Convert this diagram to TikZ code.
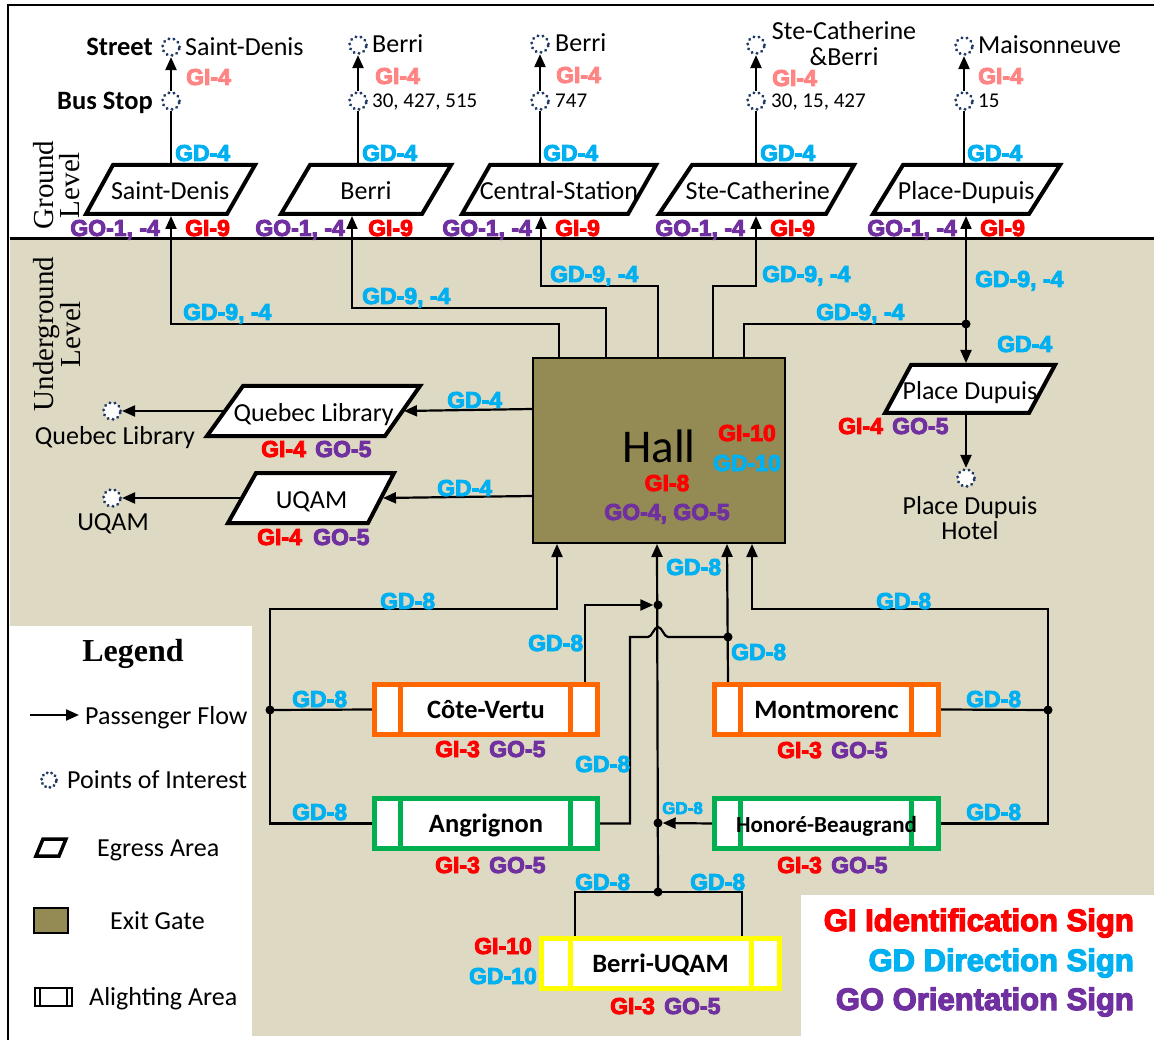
\documentclass[tikz,border=0pt]{standalone}
\usepackage{fontspec}
\setmainfont{Carlito}
\newfontfamily\signfont{Liberation Sans Bold}[FakeBold=4]
\newfontfamily\serfont{Liberation Serif}
\usetikzlibrary{arrows.meta}
\definecolor{gdblue}{HTML}{00B0F0}
\definecolor{gired}{HTML}{FF0000}
\definecolor{gopurple}{HTML}{7030A0}
\definecolor{gipink}{HTML}{FF8585}
\definecolor{bgtan}{HTML}{DDD9C3}
\definecolor{hallolive}{HTML}{948A54}
\definecolor{poiblue}{HTML}{1F3864}
\definecolor{orangeb}{HTML}{FF6600}
\definecolor{greenb}{HTML}{00B050}
\definecolor{yellowb}{HTML}{FFFF00}
\tikzset{
 sign/.style={font=\signfont\fontsize{23}{25}\selectfont, inner sep=0pt, text height=16pt, text depth=0pt},
 gd/.style={sign, text=gdblue},
 gi/.style={sign, text=gired},
 go/.style={sign, text=gopurple},
 gip/.style={sign, text=gipink},
 bigsign/.style={font=\signfont\fontsize{31}{33}\selectfont, inner sep=0pt, text height=22pt, text depth=0pt},
 body/.style={font=\fontsize{26}{28}\selectfont, inner sep=0pt, text height=17pt, text depth=0pt},
 bodyb/.style={font=\bfseries\fontsize{26.5}{28}\selectfont, inner sep=0pt, text height=17pt, text depth=0pt},
 smalltext/.style={font=\fontsize{21}{23}\selectfont, inner sep=0pt, text height=14pt, text depth=0pt},
 serlab/.style={font=\serfont\fontsize{29}{26}\selectfont, inner sep=0pt},
 conn/.style={line width=2.2pt, line join=miter},
 flow/.style={conn, -{Triangle[length=13pt,width=11pt]}},
 egress/.style={draw=black, line width=4pt, fill=white, line join=miter},
 poi/.style={circle, draw=poiblue, line width=3.2pt, line cap=round, dash pattern=on 0.1pt off 5pt, minimum size=17pt, inner sep=0pt, fill=white},
 jdot/.style={circle, fill=black, minimum size=9pt, inner sep=0pt},
}
\newcommand{\egressbox}[8]{%
 \draw[egress] (#2,#6) -- (#3,#6) -- (#5,#7) -- (#4,#7) -- cycle;
 \node[inner sep=0pt, minimum height={#7pt-#6pt}] (#1) at ({(#2+#3+#4+#5)/4},{(#6+#7)/2}) {};
 \node[body] (#1t) at ({(#2+#3+#4+#5)/4},{(#6+#7)/2+2}) {#8};
}
\newcommand{\alightbox}[9]{%
 \fill[white] (#3,#4) rectangle (#5,#6);
 \draw[draw=#2, line width=5pt] (#3,#4) rectangle (#5,#6) (#7,#4) -- (#7,#6) (#8,#4) -- (#8,#6);
 \node[bodyb, minimum width={#5pt-#3pt+5pt}, minimum height={#6pt-#4pt+5pt}] (#1) at ({(#3+#5)/2},{(#4+#6)/2}) {#9};
}
\begin{document}
\begin{tikzpicture}[x=1pt,y=-1pt]
\useasboundingbox (0,0) rectangle (1154,1040);
% backgrounds
\fill[white] (0,0) rectangle (1154,1040);
\fill[bgtan] (10,240) rectangle (1154,1036);
\fill[white] (10,626) rectangle (252,1040);
\fill[white] (801,895) rectangle (1154,1040);
\draw[line width=2pt] (8,1040) -- (8,5) -- (1154,5);
\draw[line width=3pt] (10,239) -- (1154,239);
% level labels
\node[serlab, rotate=90, align=center] (gl) at (57,185) {Ground\\Level};
\node[serlab, rotate=90, align=center] (ul) at (57,334) {Underground\\Level};
% ---------- ground level ----------
\node[poi] (st1) at (171,47) {};
\node[poi] (bs1) at (171,101) {};
\node[poi] (st2) at (358,45) {};
\node[poi] (bs2) at (358,101) {};
\node[poi] (st3) at (540,44) {};
\node[poi] (bs3) at (540,101) {};
\node[poi] (st4) at (756,45) {};
\node[poi] (bs4) at (756,101) {};
\node[poi] (st5) at (964,46) {};
\node[poi] (bs5) at (964,101) {};
\node[bodyb, anchor=east] (lstreet) at (153,47) {Street};
\node[bodyb, anchor=east] (lbus) at (153,101) {Bus Stop};
\node[body, anchor=west] (n1) at (185,47) {Saint-Denis};
\node[body, anchor=west] (n2) at (372,44) {Berri};
\node[body, anchor=west] (n3) at (555,43) {Berri};
\node[body] (n4a) at (844,31) {Ste-Catherine};
\node[body] (n4b) at (844,57) {\&Berri};
\node[body, anchor=west] (n5) at (978,45) {Maisonneuve};
\node[smalltext, anchor=west] (r2) at (372,101) {30, 427, 515};
\node[smalltext, anchor=west] (r3) at (555,101) {747};
\node[smalltext, anchor=west] (r4) at (771,101) {30, 15, 427};
\node[smalltext, anchor=west] (r5) at (978,101) {15};
\node[gip, anchor=west] (gp1) at (186,77) {GI-4};
\node[gip, anchor=west] (gp2) at (375,76) {GI-4};
\node[gip, anchor=west] (gp3) at (556,75) {GI-4};
\node[gip, anchor=west] (gp4) at (772,78) {GI-4};
\node[gip, anchor=west] (gp5) at (978,76) {GI-4};
% egress areas top
\egressbox{pSD}{113}{255}{86}{227}{165}{214}{Saint-Denis}
\egressbox{pBE}{310}{451}{281}{422}{165}{214}{Berri}
\egressbox{pCS}{490}{656}{462}{628}{165}{214}{Central-Station}
\egressbox{pSC}{692}{854}{659}{826}{165}{214}{Ste-Catherine}
\egressbox{pPD}{903}{1060}{873}{1029}{165}{214}{Place-Dupuis}
\draw[conn] (pSD.north -| bs1) -- (bs1);
\draw[conn] (pBE.north -| bs2) -- (bs2);
\draw[conn] (pCS.north -| bs3) -- (bs3);
\draw[conn] (pSC.north -| bs4) -- (bs4);
\draw[conn] (pPD.north -| bs5) -- (bs5);
\draw[flow] (bs1) -- (st1);
\draw[flow] (bs2) -- (st2);
\draw[flow] (bs3) -- (st3);
\draw[flow] (bs4) -- (st4);
\draw[flow] (bs5) -- (st5);
\node[gd, anchor=west] (gt1) at (175,153) {GD-4};
\node[gd, anchor=west] (gt2) at (362,153) {GD-4};
\node[gd, anchor=west] (gt3) at (543,153) {GD-4};
\node[gd, anchor=west] (gt4) at (760,153) {GD-4};
\node[gd, anchor=west] (gt5) at (967,153) {GD-4};
\node[go, anchor=east] (go1) at (160,228) {GO-1, -4};
\node[go, anchor=east] (go2) at (345,228) {GO-1, -4};
\node[go, anchor=east] (go3) at (532,228) {GO-1, -4};
\node[go, anchor=east] (go4) at (745,228) {GO-1, -4};
\node[go, anchor=east] (go5) at (957,228) {GO-1, -4};
\node[gi, anchor=west] (gi1) at (185,228) {GI-9};
\node[gi, anchor=west] (gi2) at (368,228) {GI-9};
\node[gi, anchor=west] (gi3) at (555,228) {GI-9};
\node[gi, anchor=west] (gi4) at (770,228) {GI-9};
\node[gi, anchor=west] (gi5) at (980,228) {GI-9};
% ---------- underground ----------
\node[draw, fill=hallolive, line width=2pt, minimum width=252pt, minimum height=185pt, inner sep=0pt] (hall) at (659,450.5) {};
\node[font=\fontsize{47}{49}\selectfont, inner sep=0pt, text height=30pt, text depth=0pt] (halltxt) at (659,447) {Hall};
\node[gi] (hgi10) at (747,433) {GI-10};
\node[gd] (hgd10) at (747,463) {GD-10};
\node[gi] (hgi8) at (667,483) {GI-8};
\node[go] (hgo) at (667,512) {GO-4, GO-5};
\egressbox{pQL}{243}{420}{207}{385}{386}{436}{Quebec Library}
\egressbox{pUQ}{256}{394}{228}{368}{473}{523}{UQAM}
\egressbox{pPU}{911}{1055}{885}{1029}{365}{413}{Place Dupuis}
\node[poi] (cQL) at (112,411) {};
\node[poi] (cUQ) at (112,498) {};
\node[poi] (cPU) at (966,478) {};
\node[body] (tQL) at (115,436) {Quebec Library};
\node[body] (tUQ) at (113,522) {UQAM};
\node[body] (tPU1) at (970,506) {Place Dupuis};
\node[body] (tPU2) at (970,531) {Hotel};
\node[jdot] (dPD) at (966,324) {};
% hall to ground
\draw[flow] ([xshift=27pt]hall.north west) |- (171,324) -- (171,216);
\draw[flow] ([xshift=74pt]hall.north west) |- (352,308) -- (352,216);
\draw[flow] ([xshift=126pt]hall.north west) |- (541,286) -- (541,216);
\draw[flow] ([xshift=181pt]hall.north west) |- (756,286) -- (756,216);
\draw[conn] ([xshift=212pt]hall.north west) |- (dPD.center);
\draw[flow] (dPD.center) -- (966,216);
\draw[flow] (dPD.center) -- (966,363);
\draw[flow] (pPU.south -| cPU) -- (cPU);
\draw[flow] ([yshift=-52pt]hall.north west) -- (404,411);
\draw[flow] (225,411) -- (cQL);
\draw[flow] ([yshift=-139pt]hall.north west) -- (383,498);
\draw[flow] (242,498) -- (cUQ);
\node[gd, anchor=west] (g94a) at (183,312) {GD-9, -4};
\node[gd, anchor=west] (g94b) at (362,296) {GD-9, -4};
\node[gd, anchor=west] (g94c) at (550,274) {GD-9, -4};
\node[gd, anchor=west] (g94d) at (762,274) {GD-9, -4};
\node[gd, anchor=west] (g94e) at (816,312) {GD-9, -4};
\node[gd, anchor=west] (g94f) at (975,279) {GD-9, -4};
\node[gd, anchor=west] (gpu) at (997,344) {GD-4};
\node[gd, anchor=west] (gql) at (447,400) {GD-4};
\node[gd, anchor=west] (guq) at (437,488) {GD-4};
\node[gi, anchor=west] (giql) at (261,449) {GI-4};
\node[go, anchor=west] (goql) at (315,449) {GO-5};
\node[gi, anchor=west] (giuq) at (257,537) {GI-4};
\node[go, anchor=west] (gouq) at (313,537) {GO-5};
\node[gi, anchor=west] (gipu) at (838,426) {GI-4};
\node[go, anchor=west] (gopu) at (892,426) {GO-5};
% ---------- platforms ----------
\alightbox{aCV}{orangeb}{374.5}{684.5}{597.5}{734.5}{400.5}{570.5}{Côte-Vertu}
\alightbox{aAN}{greenb}{374.5}{798.5}{597.5}{848.5}{400.5}{570.5}{Angrignon}
\alightbox{aMO}{orangeb}{714.5}{684.5}{938.5}{734.5}{740.5}{911}{Montmorenc}
\alightbox{aHB}{greenb}{714.5}{798.5}{938.5}{848.5}{740.5}{911}{\fontsize{23}{25}\selectfont Honoré-Beaugrand}
\alightbox{aBU}{yellowb}{541.5}{938.5}{779.5}{988.5}{570}{751}{Berri-UQAM}
\node[jdot] (dL) at (270,710) {};
\node[jdot] (dR) at (1048,710) {};
\node[jdot] (dJ1) at (658,605) {};
\node[jdot] (dJ2) at (658,823) {};
\node[jdot] (dJ3) at (658,892) {};
\node[jdot] (dJ4) at (728,637) {};
% left loop
\draw[conn] (aCV.west) -- (dL.center);
\draw[flow] (aAN.west) -- (270,823.5) -- (270,609) -- ([xshift=25pt]hall.south west |- 0,609) -- ([xshift=25pt]hall.south west);
% centre
\draw[flow] (dJ3.center) -- ([xshift=125pt]hall.south west);
\draw[flow] (aCV.north -| 585,0) |- (dJ1.west);
\draw[conn] (aAN.east) -- (630,823.5) -- (630,637) -- (648,637) .. controls (652,637) and (654,627) .. (658,627) .. controls (662,627) and (664,637) .. (668,637) -- (dJ4.center);
\draw[flow] (aMO.north -| dJ4) -- ([xshift=195pt]hall.south west);
\draw[flow] (aHB.west) -- (dJ2.east);
% right loop
\draw[conn] (aMO.east) -- (dR.center);
\draw[flow] (aHB.east) -- (1048,823.5) -- (1048,609) -- ([xshift=220pt]hall.south west |- 0,609) -- ([xshift=220pt]hall.south west);
% Berri-UQAM
\draw[conn] (aBU.north -| 575,0) -- (575,892) -- (742,892) -- (aBU.north -| 742,0);
% bottom labels
\node[gd, anchor=west] (b1) at (380,601) {GD-8};
\node[gd, anchor=west] (b2) at (292,699) {GD-8};
\node[gd, anchor=west] (b3) at (292,812) {GD-8};
\node[gd, anchor=west] (b4) at (528,643) {GD-8};
\node[gd, anchor=west] (b5) at (575,764) {GD-8};
\node[gd, anchor=west] (b6) at (666,567) {GD-8};
\node[gd, anchor=west] (b7) at (731,652) {GD-8};
\node[gd, anchor=west] (b8) at (876,601) {GD-8};
\node[gd, anchor=west] (b9) at (966,699) {GD-8};
\node[gd, anchor=west] (b10) at (966,812) {GD-8};
\node[gd, anchor=west, font=\signfont\fontsize{17}{19}\selectfont, text height=12pt] (b11) at (662,808) {GD-8};
\node[gd, anchor=west] (b12) at (575,882) {GD-8};
\node[gd, anchor=west] (b13) at (690,882) {GD-8};
\node[gi, anchor=west] (c1) at (435,749) {GI-3};
\node[go, anchor=west] (c2) at (489,749) {GO-5};
\node[gi, anchor=west] (c3) at (435,865) {GI-3};
\node[go, anchor=west] (c4) at (489,865) {GO-5};
\node[gi, anchor=west] (c5) at (777,750) {GI-3};
\node[go, anchor=west] (c6) at (831,750) {GO-5};
\node[gi, anchor=west] (c7) at (777,865) {GI-3};
\node[go, anchor=west] (c8) at (831,865) {GO-5};
\node[gi, anchor=west] (c9) at (610,1006) {GI-3};
\node[go, anchor=west] (c10) at (664,1006) {GO-5};
\node[gi, anchor=east] (c11) at (532,946) {GI-10};
\node[gd, anchor=east] (c12) at (537,976) {GD-10};
% ---------- legend ----------
\node[font=\serfont\bfseries\fontsize{32}{34}\selectfont, inner sep=0pt] (leg) at (133,654) {Legend};
\coordinate (la1) at (30,715);
\coordinate (la2) at (79,715);
\draw[flow] (la1) -- (la2);
\node[body, anchor=west] (lt1) at (85,716) {Passenger Flow};
\node[poi, minimum size=15pt, dash pattern=on 0.1pt off 4.4pt] (lpoi) at (49,780) {};
\node[body, anchor=west] (lt2) at (67,780) {Points of Interest};
\draw[line width=3.5pt, fill=white, line join=miter] (43,839) -- (66,839) -- (59,856) -- (36,856) -- cycle;
\node[body, anchor=west] (lt3) at (97,848) {Egress Area};
\draw[fill=hallolive, line width=1.5pt] (34,908) rectangle (68,933);
\node[body, anchor=west] (lt4) at (110,921) {Exit Gate};
\draw[line width=2.5pt] (35,988) rectangle (72,1006);
\draw[line width=1.5pt] (40,988) -- (40,1006) (67,988) -- (67,1006);
\node[body, anchor=west] (lt5) at (89,997) {Alighting Area};
\node[bigsign, text=gired, anchor=east] (k1) at (1134,920) {GI Identification Sign};
\node[bigsign, text=gdblue, anchor=east] (k2) at (1134,960) {GD Direction Sign};
\node[bigsign, text=gopurple, anchor=east] (k3) at (1134,999) {GO Orientation Sign};
\end{tikzpicture}
\end{document}
